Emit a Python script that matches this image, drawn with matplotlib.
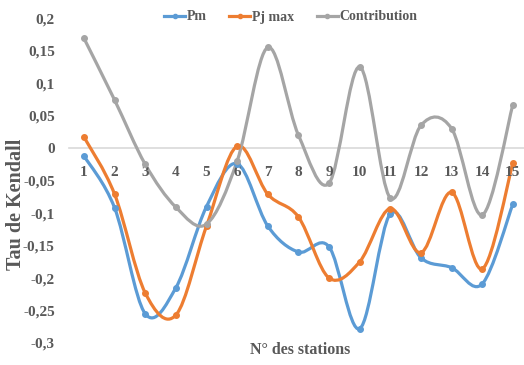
import matplotlib
matplotlib.use("Agg")
import matplotlib.pyplot as plt
from matplotlib.path import Path
from matplotlib.patches import PathPatch
from matplotlib.lines import Line2D
from matplotlib.ticker import FuncFormatter, MultipleLocator

# Tau de Kendall par station
stations = list(range(1, 16))
pm = [-0.012, -0.092, -0.255, -0.215, -0.090, -0.024, -0.120, -0.160,
      -0.152, -0.278, -0.101, -0.169, -0.184, -0.209, -0.086]
pj_max = [0.017, -0.071, -0.223, -0.257, -0.120, 0.003, -0.071, -0.106,
          -0.200, -0.175, -0.093, -0.161, -0.068, -0.186, -0.023]
contribution = [0.169, 0.074, -0.025, -0.091, -0.117, -0.020, 0.155, 0.020,
                -0.054, 0.125, -0.077, 0.035, 0.030, -0.103, 0.067]

series = [
  ("Pm", pm, "#5B9BD5"),
  ("Pj max", pj_max, "#ED7D31"),
  ("Contribution", contribution, "#A5A5A5"),
]

TEXT = "#595959"
plt.rcParams["font.family"] = ["Liberation Serif", "DejaVu Serif"]
plt.rcParams["font.weight"] = "bold"


def smooth_path(xs, ys):
  # Excel style smoothing: cubic Bezier segments with Catmull-Rom tangents
  pts = list(zip(xs, ys))
  n = len(pts)
  verts = [pts[0]]
  codes = [Path.MOVETO]
  for i in range(n - 1):
    p0 = pts[max(i - 1, 0)]
    p1 = pts[i]
    p2 = pts[i + 1]
    p3 = pts[min(i + 2, n - 1)]
    c1 = (p1[0] + (p2[0] - p0[0]) / 6, p1[1] + (p2[1] - p0[1]) / 6)
    c2 = (p2[0] - (p3[0] - p1[0]) / 6, p2[1] - (p3[1] - p1[1]) / 6)
    verts += [c1, c2, p2]
    codes += [Path.CURVE4] * 3
  return Path(verts, codes)


fig = plt.figure(figsize=(5.24, 3.65), dpi=100)
ax = fig.add_axes([0.131, 0.0603, 0.877, 0.890])

for name, vals, color in series:
  patch = PathPatch(smooth_path(stations, vals), facecolor="none",
                    edgecolor=color, linewidth=2.3, capstyle="round",
                    joinstyle="round", clip_on=False)
  ax.add_patch(patch)
  ax.plot(stations, vals, linestyle="none", marker="o", markersize=4,
          color=color, clip_on=False)

ax.set_xlim(0.5, 15.5)
ax.set_ylim(-0.3, 0.2)

ax.yaxis.set_major_locator(MultipleLocator(0.05))
ax.yaxis.set_major_formatter(FuncFormatter(
  lambda v, _: ("%g" % round(v, 2)).replace(".", ",")))
ax.set_xticks(stations)

for side in ["top", "right", "left"]:
  ax.spines[side].set_visible(False)
ax.spines["bottom"].set_position(("data", 0))
ax.spines["bottom"].set_color("#D9D9D9")
ax.spines["bottom"].set_linewidth(1.2)
ax.spines["bottom"].set_zorder(0)

ax.tick_params(axis="x", length=0, pad=13, labelsize=11, labelcolor=TEXT)
ax.tick_params(axis="y", length=0, pad=10, labelsize=11, labelcolor=TEXT)

fig.text(300 / 524, 1 - 350 / 365, "N° des stations", ha="center",
         va="center", fontsize=11.5, color=TEXT, fontweight="bold")
fig.text(16 / 524, 1 - 204 / 365, "Tau de Kendall", ha="center",
         va="center", rotation=90, fontsize=14.5, color=TEXT,
         fontweight="bold")

handles = [Line2D([], [], color=c, linewidth=2.3, marker="o", markersize=3)
           for _, _, c in series]
fig.legend(handles, [s[0] for s in series], loc="center",
           bbox_to_anchor=(291 / 524, 1 - 17 / 365), ncol=3, frameon=False,
           fontsize=10, labelcolor=TEXT, handlelength=1.5,
           handletextpad=0.15, columnspacing=1.6)

fig.savefig("out.png", dpi=100)
